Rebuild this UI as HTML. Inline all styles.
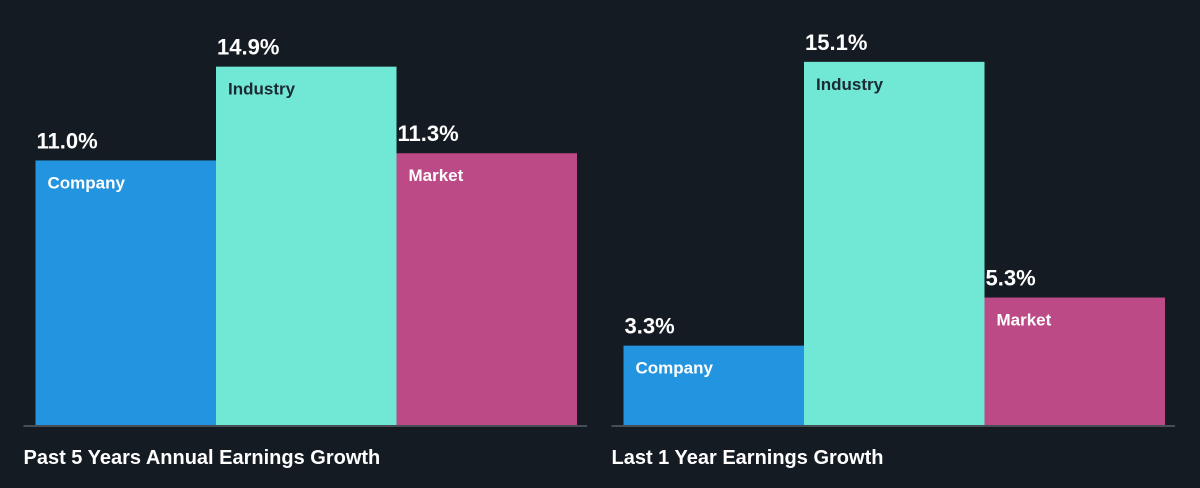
<!DOCTYPE html>
<html><head><meta charset="utf-8"><style>
html,body{margin:0;padding:0;background:#151b23;}
svg{display:block;font-family:"Liberation Sans",Arial,sans-serif;}
</style></head><body>
<svg id="chart" width="1200" height="488">
<rect width="1200" height="488" fill="#151b23"/>
</svg>
<script>
const groups = ["Past 5 Years Annual Earnings Growth", "Last 1 Year Earnings Growth"];
const categories = ["Company", "Industry", "Market"];
const pastValues = [11.0, 14.9, 11.3];
const lastValues = [3.3, 15.1, 5.3];
const series = [pastValues, lastValues];
const colors = ["#2394df", "#71e7d6", "#bc4a86"];
const labelColors = ["#ffffff", "#1b2a33", "#ffffff"];
const svg = document.getElementById('chart');
const NS = 'http://www.w3.org/2000/svg';
const baseY = 425, scale = 24.05, barW = 180.5;
const groupX = [35.5, 623.5];
function y(v){ return baseY - v*scale; }
function mk(tag, attrs){ const e=document.createElementNS(NS,tag); for(const k in attrs) e.setAttribute(k,attrs[k]); svg.appendChild(e); return e; }
groups.forEach((g, gi) => {
  const x0 = groupX[gi];
  series[gi].forEach((v, i) => {
    const x = x0 + i*barW;
    const r = mk('rect',{x:x,y:y(v),width:barW,height:baseY-y(v),fill:colors[i]});
    
    
    const t = mk('text',{x:x+1,y:y(v)-12,fill:'#ffffff','font-size':22,'font-weight':'bold'});
    t.textContent = v.toFixed(1) + '%';
    
    
    const c = mk('text',{x:x+12,y:y(v)+28,fill:labelColors[i],'font-size':17,'font-weight':'bold'});
    c.textContent = categories[i];
    
    
  });
  const l = mk('line',{x1:x0-12,x2:x0+3*barW+10,y1:baseY+1,y2:baseY+1,stroke:'#5a6068','stroke-width':1.5});
  
  
  const tt = mk('text',{x:x0-12,y:464,fill:'#ffffff','font-size':20,'font-weight':'bold'});
  tt.textContent = g;
  
  
});
</script>
</body></html>
